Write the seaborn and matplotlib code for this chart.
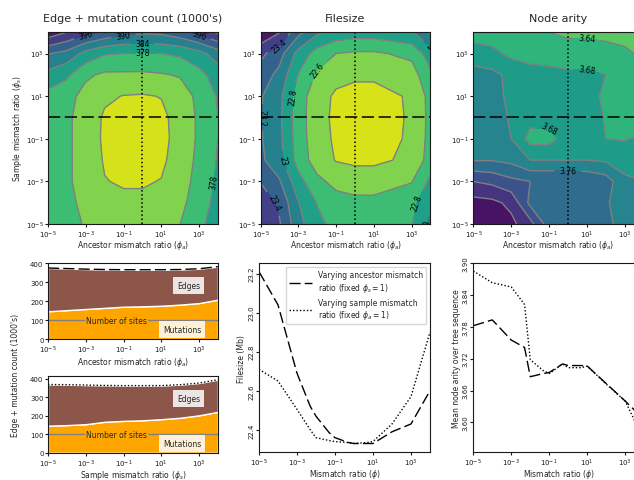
import numpy as np
import matplotlib
matplotlib.use("Agg")
import matplotlib.pyplot as plt
import seaborn as sns

sns.set_style("ticks", {"axes.edgecolor": "0.1", "xtick.color": "0.1", "ytick.color": "0.1"})
plt.rcParams.update({
    "font.size": 5.5,
    "xtick.labelsize": 5, "ytick.labelsize": 5,
    "xtick.major.size": 2, "ytick.major.size": 2,
    "xtick.major.pad": 1.2, "ytick.major.pad": 1.2,
    "axes.labelpad": 1.5,
})

# mismatch ratio grid (log10) for the contour surfaces
grid_exp = [-5, -4, -3, -2, -1, 0, 1, 2, 3, 4]

# rows: sample ratio 1e-5 .. 1e4, cols: ancestor ratio 1e-5 .. 1e4
count_grid = [
    [375, 374, 371.5, 369.5, 368.5, 368.5, 369.5, 372, 376, 382],
    [374, 373.5, 370.5, 368, 367, 367, 368, 370.5, 375, 380],
    [373.5, 373, 369.5, 366.2, 365.5, 365.5, 366.2, 369.5, 374, 379],
    [373.5, 373, 369.5, 365.5, 364, 364, 365, 368.5, 373.5, 378.5],
    [373.5, 373, 369.5, 365, 363.5, 363.5, 364.5, 368, 373, 378],
    [373.5, 373, 369.5, 365.2, 364, 363.8, 364.8, 368, 373, 378],
    [376, 374, 370, 367, 365.8, 365.5, 366.2, 369, 373.5, 378.5],
    [382, 379, 373, 371, 371, 371, 371.5, 372.5, 376, 381],
    [390.5, 388, 382, 378.5, 378, 377.5, 378, 379, 382, 387],
    [406, 402, 398, 395, 392, 391, 391.5, 394, 398, 403],
]
count_levels = [360, 366, 372, 378, 384, 390, 396, 402, 408]
count_labels = [378, 384, 390, 396]

filesize_grid = [
    [23.59, 23.42, 23.07, 22.85, 22.74, 22.71, 22.71, 22.75, 22.79, 23.04],
    [23.53, 23.36, 23.01, 22.79, 22.68, 22.65, 22.65, 22.69, 22.73, 22.98],
    [23.39, 23.22, 22.87, 22.65, 22.54, 22.51, 22.51, 22.55, 22.59, 22.84],
    [23.24, 23.07, 22.72, 22.50, 22.39, 22.36, 22.36, 22.40, 22.44, 22.69],
    [23.22, 23.05, 22.70, 22.48, 22.37, 22.34, 22.34, 22.38, 22.42, 22.67],
    [23.21, 23.04, 22.69, 22.47, 22.36, 22.33, 22.33, 22.37, 22.42, 22.66],
    [23.22, 23.05, 22.70, 22.48, 22.37, 22.34, 22.34, 22.38, 22.42, 22.67],
    [23.31, 23.14, 22.79, 22.57, 22.46, 22.43, 22.43, 22.47, 22.51, 22.76],
    [23.45, 23.28, 22.93, 22.71, 22.60, 22.57, 22.57, 22.61, 22.65, 22.90],
    [23.78, 23.61, 23.26, 23.04, 22.93, 22.90, 22.90, 22.94, 22.98, 23.23],
]
filesize_levels = [22.2, 22.4, 22.6, 22.8, 23.0, 23.2, 23.4, 23.6, 23.8]
filesize_labels = [22.6, 22.8, 23.0, 23.2, 23.4]

arity_grid = [
    [3.91, 3.905, 3.89, 3.855, 3.78, 3.78, 3.78, 3.77, 3.745, 3.735],
    [3.895, 3.89, 3.87, 3.79, 3.78, 3.78, 3.775, 3.765, 3.74, 3.73],
    [3.84, 3.83, 3.81, 3.80, 3.80, 3.80, 3.795, 3.78, 3.73, 3.72],
    [3.758, 3.758, 3.75, 3.72, 3.72, 3.72, 3.72, 3.715, 3.70, 3.695],
    [3.75, 3.745, 3.72, 3.665, 3.665, 3.70, 3.70, 3.68, 3.678, 3.685],
    [3.745, 3.74, 3.715, 3.695, 3.695, 3.70, 3.70, 3.677, 3.665, 3.66],
    [3.74, 3.735, 3.71, 3.70, 3.70, 3.70, 3.69, 3.675, 3.665, 3.66],
    [3.735, 3.73, 3.71, 3.695, 3.69, 3.685, 3.685, 3.68, 3.67, 3.66],
    [3.70, 3.69, 3.67, 3.665, 3.665, 3.665, 3.665, 3.66, 3.65, 3.63],
    [3.66, 3.66, 3.655, 3.65, 3.64, 3.63, 3.63, 3.625, 3.62, 3.60],
]
arity_levels = [3.52, 3.56, 3.60, 3.64, 3.68, 3.72, 3.76, 3.80, 3.84, 3.88, 3.92]
arity_labels = [3.64, 3.68, 3.76]

# 1D slices through the surfaces
phi = [1e-5, 1e-4, 1e-3, 5e-3, 1e-2, 5e-2, 1e-1, 5e-1, 1, 5, 10, 1e2, 1e3, 1e4]
size_anc = [23.21, 23.04, 22.69, 22.52, 22.47, 22.385, 22.36, 22.335, 22.33, 22.33, 22.33, 22.39, 22.43, 22.60]
size_smp = [22.71, 22.65, 22.505, 22.40, 22.36, 22.345, 22.34, 22.335, 22.33, 22.335, 22.34, 22.43, 22.57, 22.90]
arity_anc = [3.782, 3.793, 3.755, 3.741, 3.686, 3.692, 3.694, 3.710, 3.707, 3.707, 3.706, 3.673, 3.640, 3.605]
arity_smp = [3.885, 3.863, 3.855, 3.822, 3.718, 3.697, 3.692, 3.710, 3.703, 3.703, 3.706, 3.672, 3.640, 3.565]

# edge / mutation counts (1000's)
stack_phi = [1e-5, 1e-4, 1e-3, 1e-2, 1e-1, 1, 10, 1e2, 1e3, 1e4]
mut_anc = [147, 153, 159, 165, 171, 173, 176, 182, 190, 208]
total_anc = [374, 371, 368, 366, 365, 365, 365, 366, 370, 381]
mut_smp = [147, 150, 155, 168, 173, 176, 182, 190, 203, 222]
total_smp = [370, 369, 367, 365, 364, 364, 364, 369, 378, 396]
n_sites = 100

dash = (0, (8, 3))
dot = (0, (1, 1.5))
tick_exp = [-5, -3, -1, 1, 3]
tick_lab = ["$10^{%d}$" % e for e in tick_exp]

fig = plt.figure(figsize=(6.34, 4.81), dpi=100)


def contour_panel(rect, grid, levels, lab_levels, title, ylabel=None):
    ax = fig.add_axes(rect)
    z = np.array(grid)
    ax.contourf(grid_exp, grid_exp, z, levels=levels, cmap="viridis_r")
    cl = ax.contour(grid_exp, grid_exp, z, levels=levels, colors="grey", linewidths=1)
    ax.clabel(cl, levels=lab_levels, fmt="%g", fontsize=5.5, colors="k")
    ax.axhline(0, color="k", ls=dash, lw=1.1)
    ax.axvline(0, color="k", ls=":", lw=1.1)
    ax.set_xlim(-5, 4)
    ax.set_ylim(-5, 4)
    ax.set_xticks(tick_exp, tick_lab)
    ax.set_yticks(tick_exp, tick_lab)
    ax.set_title(title, fontsize=8, pad=8)
    ax.set_xlabel(r"Ancestor mismatch ratio ($\phi_a$)", labelpad=-1)
    if ylabel:
        ax.set_ylabel(ylabel)
    return ax


contour_panel([0.0757, 0.532, 0.268, 0.399], count_grid, count_levels, count_labels,
              "Edge + mutation count (1000's)", r"Sample mismatch ratio ($\phi_s$)")
contour_panel([0.411, 0.532, 0.268, 0.399], filesize_grid, filesize_levels, filesize_labels,
              "Filesize")
contour_panel([0.7468, 0.532, 0.268, 0.399], arity_grid, arity_levels, arity_labels,
              "Node arity")


def stack_panel(rect, mut, total, ls, xlabel):
    ax = fig.add_axes(rect)
    edges = np.array(total) - np.array(mut)
    ax.stackplot(stack_phi, mut, edges, colors=["orange", "tab:brown"])
    sns.lineplot(x=stack_phi, y=total, ax=ax, color="k", lw=1, linestyle=ls)
    ax.axhline(n_sites, color="grey", lw=1)
    ax.text(10 ** -1.37, n_sites, "Number of sites", ha="center", va="center",
            bbox=dict(facecolor="orange", edgecolor="none", pad=1))
    ax.text(10 ** 2.45, 0.74 * max(total), "Edges", ha="center", va="center",
            bbox=dict(facecolor="white", alpha=0.85, edgecolor="none", pad=3))
    ax.text(10 ** 2.1, 50, "Mutations", ha="center", va="center",
            bbox=dict(facecolor="white", alpha=0.85, edgecolor="none", pad=3))
    ax.set_xscale("log")
    ax.set_xlim(1e-5, 1e4)
    ax.set_ylim(0, max(total) * 1.05)
    ax.set_yticks([0, 100, 200, 300, 400])
    ax.set_xticks([10.0 ** e for e in tick_exp], tick_lab)
    ax.xaxis.set_minor_locator(matplotlib.ticker.NullLocator())
    ax.set_xlabel(xlabel, labelpad=-0.3)
    return ax


stack_panel([0.0757, 0.2925, 0.268, 0.1586], mut_anc, total_anc, dash,
            r"Ancestor mismatch ratio ($\phi_a$)")
stack_panel([0.0757, 0.0566, 0.268, 0.1595], mut_smp, total_smp, dot,
            r"Sample mismatch ratio ($\phi_s$)")
fig.text(0.024, 0.22, "Edge + mutation count (1000's)", rotation=90, ha="center", va="center")


def line_panel(rect, anc, smp, ylabel, legend=False):
    ax = fig.add_axes(rect)
    sns.lineplot(x=phi, y=anc, ax=ax, color="k", lw=1, linestyle=dash,
                 label="Varying ancestor mismatch\n" + r"ratio (fixed $\phi_s = 1$)")
    sns.lineplot(x=phi, y=smp, ax=ax, color="k", lw=1, linestyle=dot,
                 label="Varying sample mismatch\n" + r"ratio (fixed $\phi_a = 1$)")
    ax.set_xscale("log")
    ax.set_xlim(1e-5, 1e4)
    ax.set_xticks([10.0 ** e for e in tick_exp], tick_lab)
    ax.xaxis.set_minor_locator(matplotlib.ticker.NullLocator())
    ax.tick_params(axis="y", labelrotation=90)
    for t in ax.get_yticklabels():
        t.set_va("center")
    ax.set_xlabel(r"Mismatch ratio ($\phi$)", labelpad=-0.3)
    ax.set_ylabel(ylabel)
    if legend:
        ax.legend(loc="upper right", fontsize=5.5, handlelength=3)
    else:
        ax.get_legend().remove()
    return ax


line_panel([0.4085, 0.058, 0.2697, 0.393], size_anc, size_smp, "Filesize (Mb)", legend=True)
ax = line_panel([0.7465, 0.058, 0.2697, 0.393], arity_anc, arity_smp,
                "Mean node arity over tree sequence")
ax.set_yticks([3.60, 3.66, 3.72, 3.78, 3.84, 3.90])
ax.set_ylim(3.544, 3.90)

fig.savefig("out.png", dpi=100)
